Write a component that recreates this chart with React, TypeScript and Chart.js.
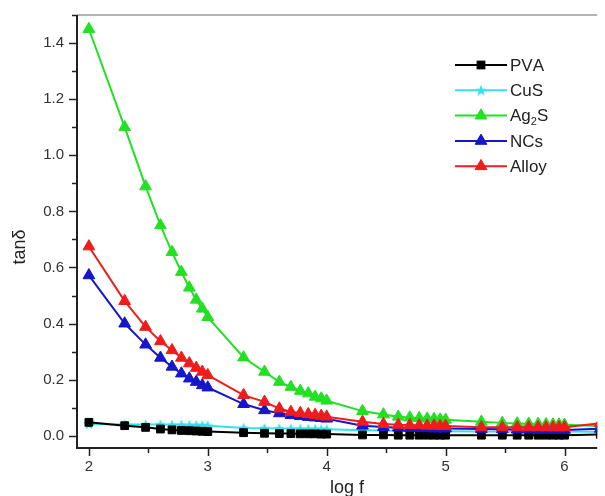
import { useEffect, useRef } from 'react';
import { Chart, registerables } from 'chart.js';

Chart.register(...registerables);

// ---- data (log f on x, tan δ on y) ----
const LOG_F = [
  2, 2.301, 2.477, 2.602, 2.699, 2.778, 2.845, 2.903, 2.954, 3,
  3.301, 3.477, 3.602, 3.699, 3.778, 3.845, 3.903, 3.954, 4,
  4.301, 4.477, 4.602, 4.699, 4.778, 4.845, 4.903, 4.954, 5,
  5.301, 5.477, 5.602, 5.699, 5.778, 5.845, 5.903, 5.954, 6, 6.301,
];

const PVA = [
  0.048, 0.036, 0.030, 0.024, 0.021, 0.019, 0.018, 0.017, 0.016, 0.015,
  0.011, 0.009, 0.008, 0.008, 0.007, 0.007, 0.007, 0.006, 0.006,
  0.003, 0.003, 0.002, 0.002, 0.002, 0.002, 0.002, 0.002, 0.002,
  0.002, 0.002, 0.002, 0.002, 0.002, 0.002, 0.002, 0.002, 0.002, 0.005,
];

const CUS = [
  0.042, 0.040, 0.040, 0.040, 0.039, 0.039, 0.038, 0.038, 0.037, 0.036,
  0.028, 0.027, 0.026, 0.025, 0.025, 0.024, 0.024, 0.023, 0.023,
  0.020, 0.019, 0.018, 0.018, 0.017, 0.017, 0.017, 0.016, 0.016,
  0.015, 0.015, 0.015, 0.015, 0.015, 0.015, 0.015, 0.015, 0.015, 0.014,
];

const AG2S = [
  1.45, 1.10, 0.889, 0.75, 0.655, 0.584, 0.528, 0.485, 0.453, 0.423,
  0.279, 0.228, 0.192, 0.174, 0.160, 0.151, 0.139, 0.133, 0.125,
  0.088, 0.076, 0.068, 0.065, 0.063, 0.061, 0.060, 0.058, 0.057,
  0.050, 0.046, 0.044, 0.043, 0.042, 0.041, 0.040, 0.040, 0.039, 0.035,
];

const NCS = [
  0.572, 0.40, 0.325, 0.278, 0.246, 0.222, 0.204, 0.192, 0.180, 0.172,
  0.113, 0.091, 0.080, 0.074, 0.070, 0.067, 0.065, 0.063, 0.061,
  0.036, 0.031, 0.029, 0.028, 0.027, 0.027, 0.026, 0.026, 0.026,
  0.024, 0.023, 0.022, 0.022, 0.021, 0.021, 0.021, 0.021, 0.021, 0.025,
];

const ALLOY = [
  0.675, 0.48, 0.388, 0.337, 0.305, 0.278, 0.258, 0.242, 0.228, 0.216,
  0.145, 0.121, 0.097, 0.085, 0.081, 0.077, 0.074, 0.071, 0.068,
  0.050, 0.042, 0.039, 0.038, 0.037, 0.036, 0.036, 0.035, 0.035,
  0.030, 0.030, 0.030, 0.030, 0.030, 0.030, 0.030, 0.030, 0.030, 0.045,
];

const SERIES_NAMES = ['PVA', 'CuS', 'Ag₂S', 'NCs', 'Alloy'];

const X_TICKS = [2, 3, 4, 5, 6];
const X_TICK_LABELS = ['2', '3', '4', '5', '6'];
const X_MINOR_TICKS = [2.5, 3.5, 4.5, 5.5];
const Y_TICKS = [0, 0.2, 0.4, 0.6, 0.8, 1.0, 1.2, 1.4];
const Y_TICK_LABELS = ['0.0', '0.2', '0.4', '0.6', '0.8', '1.0', '1.2', '1.4'];
const Y_MINOR_TICKS = [0.1, 0.3, 0.5, 0.7, 0.9, 1.1, 1.3, 1.5];
const X_TITLE = 'log f';
const Y_TITLE = 'tanδ';

const FONT = '"Liberation Sans", Arial, Helvetica, sans-serif';

function makeStar(color: string, size: number) {
  const c = document.createElement('canvas');
  c.width = size;
  c.height = size;
  const ctx = c.getContext('2d')!;
  const cx = size / 2;
  const cy = size / 2 + 0.5;
  const R = size / 2;
  const r = R * 0.42;
  ctx.beginPath();
  for (let i = 0; i < 10; i++) {
    const ang = -Math.PI / 2 + (i * Math.PI) / 5;
    const rad = i % 2 === 0 ? R : r;
    ctx.lineTo(cx + rad * Math.cos(ang), cy + rad * Math.sin(ang));
  }
  ctx.closePath();
  ctx.fillStyle = color;
  ctx.fill();
  return c;
}

function drawMarker(ctx: CanvasRenderingContext2D, ds: any, x: number, y: number) {
  const style = ds.pointStyle;
  const color = ds.pointBackgroundColor;
  ctx.save();
  ctx.fillStyle = color;
  ctx.strokeStyle = color;
  ctx.lineWidth = 1;
  if (style === 'rect') {
    const s = Math.SQRT1_2 * ds.pointRadius;
    ctx.fillRect(x - s, y - s, 2 * s, 2 * s);
    ctx.strokeRect(x - s, y - s, 2 * s, 2 * s);
  } else if (style === 'triangle') {
    const r = ds.pointRadius;
    ctx.beginPath();
    let a = 0;
    ctx.moveTo(x + Math.sin(a) * r, y - Math.cos(a) * r);
    a += (2 * Math.PI) / 3;
    ctx.lineTo(x + Math.sin(a) * r, y - Math.cos(a) * r);
    a += (2 * Math.PI) / 3;
    ctx.lineTo(x + Math.sin(a) * r, y - Math.cos(a) * r);
    ctx.closePath();
    ctx.fill();
    ctx.stroke();
  } else if (style instanceof HTMLCanvasElement) {
    ctx.drawImage(style, x - style.width / 2, y - style.height / 2);
  }
  ctx.restore();
}

const SUBS: Record<string, string> = { '₀': '0', '₁': '1', '₂': '2', '₃': '3' };

function drawRichText(ctx: CanvasRenderingContext2D, text: string, x: number, y: number, size: number) {
  let cx = x;
  for (const ch of Array.from(text)) {
    if (SUBS[ch]) {
      ctx.font = `${Math.round(size * 0.62)}px ${FONT}`;
      ctx.fillText(SUBS[ch], cx, y + size * 0.3);
      cx += ctx.measureText(SUBS[ch]).width;
    } else {
      ctx.font = `${size}px ${FONT}`;
      ctx.fillText(ch, cx, y);
      cx += ctx.measureText(ch).width;
    }
  }
}

const framePlugin = {
  id: 'originFrame',
  afterDraw(chart: any) {
    const { ctx, chartArea } = chart;
    const xs = chart.scales.x;
    const ys = chart.scales.y;
    const { left, right, top, bottom } = chartArea;
    ctx.save();
    // top frame line
    ctx.strokeStyle = '#9a9a9a';
    ctx.lineWidth = 1.5;
    ctx.beginPath();
    ctx.moveTo(left, top);
    ctx.lineTo(right, top);
    ctx.stroke();
    // left & bottom axes
    ctx.strokeStyle = '#222';
    ctx.lineWidth = 2;
    ctx.beginPath();
    ctx.moveTo(left, top);
    ctx.lineTo(left, bottom + 1);
    ctx.lineTo(right, bottom + 1);
    ctx.stroke();
    // ticks
    ctx.lineWidth = 1.5;
    const tickY = (v: number, len: number) => {
      const p = Math.round(ys.getPixelForValue(v)) + 0.5;
      ctx.beginPath();
      ctx.moveTo(left - len, p);
      ctx.lineTo(left, p);
      ctx.stroke();
    };
    const tickX = (v: number, len: number) => {
      const p = Math.round(xs.getPixelForValue(v)) + 0.5;
      ctx.beginPath();
      ctx.moveTo(p, bottom + 1);
      ctx.lineTo(p, bottom + 1 + len);
      ctx.stroke();
    };
    Y_TICKS.forEach((v) => tickY(v, 8));
    Y_MINOR_TICKS.forEach((v) => tickY(v, 5));
    X_TICKS.forEach((v) => tickX(v, 8));
    X_MINOR_TICKS.forEach((v) => tickX(v, 5));

    // axis titles
    ctx.fillStyle = '#222';
    ctx.font = `18px ${FONT}`;
    ctx.textAlign = 'center';
    ctx.textBaseline = 'alphabetic';
    ctx.fillText(X_TITLE, 347, 493);
    ctx.save();
    ctx.translate(25, 247);
    ctx.rotate(-Math.PI / 2);
    ctx.font = `18px ${FONT}`;
    ctx.fillText(Y_TITLE, 0, 0);
    ctx.restore();

    // legend
    const legendOrder = [0, 1, 2, 3, 4];
    legendOrder.forEach((idx, row) => {
      const ds = chart.data.datasets[idx];
      const y = 65 + row * 25.3;
      ctx.strokeStyle = ds.borderColor;
      ctx.lineWidth = 2;
      ctx.beginPath();
      ctx.moveTo(455, y);
      ctx.lineTo(507, y);
      ctx.stroke();
      drawMarker(ctx, ds, 481, y);
      ctx.fillStyle = '#222';
      ctx.textAlign = 'left';
      ctx.textBaseline = 'middle';
      drawRichText(ctx, SERIES_NAMES[idx], 510, y + 1, 17);
    });
    ctx.restore();
  },
};

export default function App() {
  const ref = useRef<HTMLCanvasElement | null>(null);

  useEffect(() => {
    document.body.style.margin = '0';
    if (!ref.current) return;
    const pts = (vals: number[]) => LOG_F.map((x, i) => ({ x, y: vals[i] }));
    const mk = (label: string, vals: number[], color: string, pointStyle: any, radius: number, order: number) => ({
      label,
      data: pts(vals),
      borderColor: color,
      backgroundColor: color,
      pointBackgroundColor: color,
      pointBorderColor: color,
      pointBorderWidth: 1,
      pointStyle,
      pointRadius: radius,
      borderWidth: 2,
      tension: 0,
      order,
    });

    const cyan = '#30e2ee';
    const chart = new Chart(ref.current, {
      type: 'line',
      data: {
        datasets: [
          mk(SERIES_NAMES[0], PVA, '#000000', 'rect', 5.5, 3),
          mk(SERIES_NAMES[1], CUS, cyan, makeStar(cyan, 12), 6, 4),
          mk(SERIES_NAMES[2], AG2S, '#22e022', 'triangle', 6.8, 2),
          mk(SERIES_NAMES[3], NCS, '#1616cc', 'triangle', 6.8, 1),
          mk(SERIES_NAMES[4], ALLOY, '#ee1c1c', 'triangle', 6.8, 0),
        ] as any,
      },
      options: {
        animation: false,
        responsive: true,
        maintainAspectRatio: false,
        devicePixelRatio: 1,
        layout: { padding: { top: 15, left: 0, right: 0, bottom: 0 } },
        plugins: { legend: { display: false }, tooltip: { enabled: false } },
        events: [],
        scales: {
          x: {
            type: 'linear',
            min: 1.9,
            max: 6.275,
            grid: { display: false, drawTicks: false },
            border: { display: false },
            afterBuildTicks: (scale: any) => {
              scale.ticks = X_TICKS.map((v) => ({ value: v }));
            },
            afterFit: (scale: any) => {
              scale.height = 49;
              scale.paddingLeft = 0;
              scale.paddingRight = 0;
            },
            ticks: {
              padding: 11,
              color: '#333',
              font: { family: FONT, size: 15 },
              maxRotation: 0,
              callback: (v: any) => {
                const i = X_TICKS.indexOf(Number(v));
                return i >= 0 ? X_TICK_LABELS[i] : '';
              },
            },
          },
          y: {
            type: 'linear',
            min: -0.04,
            max: 1.5,
            grid: { display: false, drawTicks: false },
            border: { display: false },
            afterBuildTicks: (scale: any) => {
              scale.ticks = Y_TICKS.map((v) => ({ value: v }));
            },
            afterFit: (scale: any) => {
              scale.width = 77;
              scale.paddingTop = 0;
              scale.paddingBottom = 0;
            },
            ticks: {
              padding: 13,
              color: '#333',
              font: { family: FONT, size: 15 },
              callback: (v: any) => {
                const i = Y_TICKS.findIndex((t) => Math.abs(t - Number(v)) < 1e-6);
                return i >= 0 ? Y_TICK_LABELS[i] : '';
              },
            },
          },
        },
      },
      plugins: [framePlugin],
    });
    return () => chart.destroy();
  }, []);

  return (
    <div style={{ position: 'relative', width: 605, height: 496 }}>
      <canvas ref={ref} />
    </div>
  );
}
